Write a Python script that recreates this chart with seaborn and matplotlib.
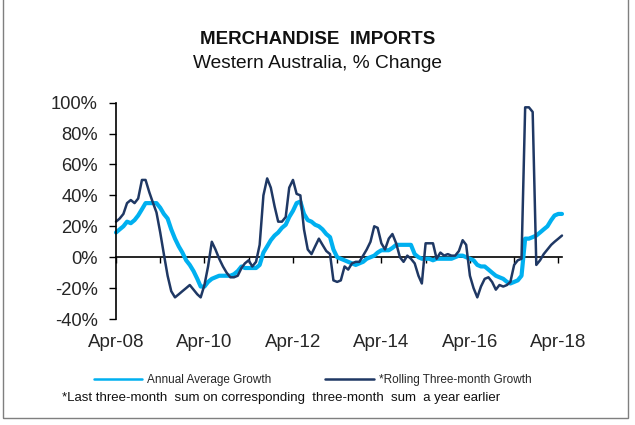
import numpy as np
import pandas as pd
import matplotlib
matplotlib.use('Agg')
import matplotlib.pyplot as plt
from matplotlib.patches import Rectangle
from matplotlib.lines import Line2D
import seaborn as sns

# monthly values, Apr-08 .. May-18 (% change)
annual_avg = [16, 18, 20, 23, 22, 24, 27, 31, 35, 35, 35, 35,
              32, 28, 25, 18, 12, 7, 3, -2, -5, -9, -14, -19,
              -19, -16, -14, -13, -12, -12, -12, -12, -11, -9, -6, -7,
              -7, -7, -7, -5, 3, 7, 11, 14, 16, 19, 21, 26,
              30, 35, 36, 28, 24, 23, 21, 20, 18, 15, 13, 5,
              0, -1, -2, -3, -4, -5, -4, -3, -1, 0, 1, 3,
              4.5, 4.5, 4.5, 6, 8, 8, 8, 8, 8, 2, 0, -1,
              -1, -1, -2, -1, -1, -1, -1, -1, 0, 1, 1, 0,
              -1, -2, -5, -6, -6, -8, -10, -12, -13, -14, -16, -17,
              -16, -15, -12, 12, 12, 13, 14, 16, 18, 20, 24, 27,
              28, 28]
rolling_3m = [23, 25, 28, 35, 37, 35, 38, 50, 50, 42, 35, 29,
              16, 2, -12, -22, -26, -24, -22, -20, -18, -21, -24, -26,
              -18, -6, 10, 5, -1, -6, -10, -13, -13, -12, -7, -4,
              -2, -6, -3, 8, 40, 51, 45, 33, 23, 23, 26, 45,
              50, 41, 40, 18, 5, 2, 7, 12, 8, 4, 2, -15,
              -16, -15, -6, -8, -4, -3, -3, 1, 5, 10, 20, 19,
              9, 5, 12, 15, 9, 0, -3, 1, -1, -4, -12, -17,
              9, 9, 9, -1, 3, 1, 2, 1, 1, 4, 11, 8,
              -12, -20, -26, -19, -14, -13, -16, -21, -18, -19, -18, -16,
              -5, -2, -1, 97, 97, 94, -5, -2, 2, 5, 8, 10,
              12, 14]
months = pd.date_range('2008-04-01', periods=len(annual_avg), freq='MS')

year_ticks = pd.date_range('2008-04-01', '2018-04-01', freq='12MS')
year_labels = ['Apr-08', '', 'Apr-10', '', 'Apr-12', '', 'Apr-14', '', 'Apr-16', '', 'Apr-18']
y_ticks = [-40, -20, 0, 20, 40, 60, 80, 100]
y_labels = ['-40%', '-20%', '0%', '20%', '40%', '60%', '80%', '100%']

light = '#00B0F0'
navy = '#1F3864'

sns.set_style('white')
plt.rcParams['font.family'] = ['Liberation Sans', 'DejaVu Sans']
plt.rcParams['axes.unicode_minus'] = False

df = pd.DataFrame({'month': months, 'annual': annual_avg, 'rolling': rolling_3m})

fig = plt.figure(figsize=(6.35, 4.25), dpi=100)
ax = fig.add_axes([0.1827, 0.2494, 0.7023, 0.509])

sns.lineplot(data=df, x='month', y='annual', color=light, lw=3.0, ax=ax,
             solid_joinstyle='round', clip_on=False)
sns.lineplot(data=df, x='month', y='rolling', color=navy, lw=1.8, ax=ax,
             solid_joinstyle='round', clip_on=False)

ax.set_ylim(-40, 100)
ax.set_xlim(months[0], months[-1])
ax.set_xlabel('')
ax.set_ylabel('')
ax.set_yticks(y_ticks)
ax.set_yticklabels(y_labels, fontsize=13.2)
ax.set_xticks(year_ticks)
ax.set_xticklabels(year_labels, fontsize=13.5)
ax.tick_params(axis='x', length=0, pad=11)
ax.tick_params(axis='y', direction='out', length=5, width=1, pad=8, left=True, color='black')
for side in ['top', 'right', 'bottom']:
    ax.spines[side].set_visible(False)
ax.spines['left'].set_color('black')
ax.spines['left'].set_linewidth(1.2)

# zero line with yearly tick marks
zero = ax.secondary_xaxis(40 / 140)
zero.set_xticks(year_ticks)
zero.tick_params(direction='out', length=4, width=1, labelbottom=False, bottom=True, color='black')
zero.spines['bottom'].set_color('black')
zero.spines['bottom'].set_linewidth(1.2)

fig.text(0.5, 1 - 40 / 425, 'MERCHANDISE  IMPORTS', ha='center', va='center',
         fontsize=13.5, fontweight='bold', color='#111111')
fig.text(0.5, 1 - 63 / 425, 'Western Australia, % Change', ha='center', va='center',
         fontsize=13.8, color='#111111')

handles = [Line2D([], [], color=light, lw=1.8), Line2D([], [], color=navy, lw=1.8)]
fig.legend(handles, ['Annual Average Growth', '*Rolling Three-month Growth'],
           loc='center', bbox_to_anchor=(0.492, 1 - 380 / 425), ncol=2, frameon=False,
           fontsize=8.5, handlelength=4.1, handletextpad=0.4, columnspacing=4.6)

fig.text(62 / 635, 1 - 398 / 425,
         '*Last three-month  sum on corresponding  three-month  sum  a year earlier',
         ha='left', va='center', fontsize=9.5, color='#111111')

fig.add_artist(Rectangle((3 / 635, 7 / 425), 625 / 635, 1.0, transform=fig.transFigure,
                         fill=False, edgecolor='#7f7f7f', lw=1))

fig.savefig('out.png', dpi=100)
